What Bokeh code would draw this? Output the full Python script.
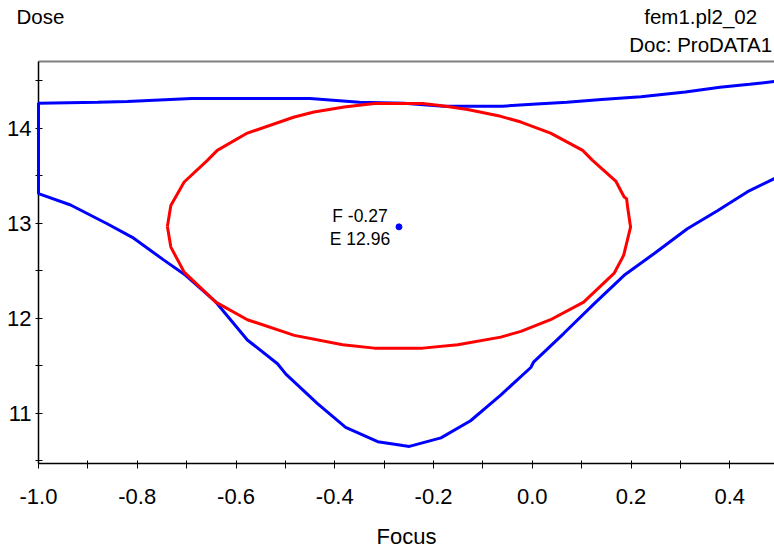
from bokeh.plotting import figure
from bokeh.models import Range1d, FixedTicker, PrintfTickFormatter, LinearAxis, Label
from bokeh.embed import file_html
from bokeh.resources import INLINE

# ---- data ----
top_focus = [-1.0, -0.88, -0.82, -0.69, -0.45, -0.35, -0.26, -0.18, -0.06, 0.00, 0.07, 0.14, 0.22, 0.31, 0.38, 0.44, 0.491]
top_dose = [14.26, 14.27, 14.28, 14.31, 14.31, 14.27, 14.26, 14.23, 14.23, 14.25, 14.27, 14.30, 14.33, 14.38, 14.43, 14.46, 14.49]

low_focus = [-1.0, -0.935, -0.86, -0.81, -0.746, -0.702, -0.641, -0.577, -0.516, -0.499, -0.435, -0.378,
             -0.313, -0.262, -0.249, -0.185, -0.125, -0.064, -0.003, 0.003, 0.064, 0.125, 0.186, 0.247,
             0.314, 0.375, 0.436, 0.491]
low_dose = [13.31, 13.19, 12.99, 12.85, 12.61, 12.45, 12.17, 11.77, 11.52, 11.41, 11.10, 10.85,
            10.70, 10.66, 10.65, 10.74, 10.92, 11.19, 11.48, 11.54, 11.84, 12.15, 12.45, 12.68,
            12.94, 13.13, 13.33, 13.47]

ell_focus = [-0.739, -0.732, -0.705, -0.658, -0.638, -0.577, -0.482, -0.442, -0.381, -0.320, -0.222,
             -0.179, -0.131, -0.064, -0.023, 0.037, 0.102, 0.122, 0.169, 0.186, 0.191, 0.193, 0.199,
             0.185, 0.166, 0.104, 0.037, -0.023, -0.064, -0.151, -0.222, -0.320, -0.384, -0.482,
             -0.577, -0.641, -0.705, -0.732, -0.739]
ell_dose = [12.965, 13.186, 13.432, 13.660, 13.765, 13.947, 14.116, 14.168, 14.221, 14.257, 14.257,
            14.232, 14.194, 14.123, 14.063, 13.947, 13.765, 13.660, 13.442, 13.274, 13.257, 13.168, 12.958,
            12.660, 12.474, 12.168, 11.983, 11.860, 11.800, 11.720, 11.684, 11.684, 11.720, 11.818,
            11.983, 12.168, 12.484, 12.747, 12.965]

center_focus = -0.27
center_dose = 12.96

x_major = [-1.0, -0.8, -0.6, -0.4, -0.2, 0.0, 0.2, 0.4]
x_minor = [-0.9, -0.7, -0.5, -0.3, -0.1, 0.1, 0.3]
y_major = [11, 12, 13, 14]
y_minor = [10.5, 11.5, 12.5, 13.5, 14.5]

x_title = "Focus"
y_title = "Dose"
file_title = "fem1.pl2_02"
doc_title = "Doc: ProDATA1"

FONT = "Liberation Sans"
X0, X1 = -1.0, 0.4905
Y0, Y1 = 10.47, 14.70
# anchor positions (along the top edge) of the header texts
DOSE_AT = -0.996
FILE_AT = 0.341

# ---- figure ----
p = figure(frame_width=736, frame_height=402, output_backend="svg", toolbar_location=None,
           x_range=Range1d(X0, X1), y_range=Range1d(Y0, Y1),
           min_border_left=38, min_border_right=0, min_border_top=61, min_border_bottom=89,
           x_axis_location="below", y_axis_location="left")
p.outline_line_color = None
p.xgrid.visible = False
p.ygrid.visible = False
p.background_fill_color = "white"
p.border_fill_color = "white"

xa = p.xaxis[0]
xa.ticker = FixedTicker(ticks=x_major, minor_ticks=x_minor)
xa.formatter = PrintfTickFormatter(format="%.1f")
ya = p.yaxis[0]
ya.ticker = FixedTicker(ticks=y_major, minor_ticks=y_minor)
ya.formatter = PrintfTickFormatter(format="%d")

for ax in (xa, ya):
    ax.axis_line_color = "black"
    ax.axis_line_width = 1.5
    ax.major_tick_line_color = "black"
    ax.minor_tick_line_color = "black"
    ax.major_label_text_font = FONT
    ax.major_label_text_font_size = "22px"
    ax.major_label_text_color = "black"

xa.major_tick_in = 3
xa.major_tick_out = 5
xa.minor_tick_in = 3
xa.minor_tick_out = 5
xa.major_label_standoff = 20
xa.axis_label = x_title
xa.axis_label_standoff = 17
xa.axis_label_text_font = FONT
xa.axis_label_text_font_style = "normal"
xa.axis_label_text_font_size = "22px"
xa.axis_label_text_color = "black"

ya.major_tick_in = 4
ya.major_tick_out = 3
ya.minor_tick_in = 4
ya.minor_tick_out = 3
ya.major_label_standoff = 4

# top edge: grey line carrying the header texts as labels
top_ax = LinearAxis(ticker=FixedTicker(ticks=[DOSE_AT, FILE_AT]),
                    axis_line_color="#808080", axis_line_width=2,
                    major_tick_line_color=None, minor_tick_line_color=None,
                    major_tick_in=0, major_tick_out=0,
                    major_label_standoff=6,
                    major_label_text_font=FONT, major_label_text_font_size="20.5px",
                    major_label_text_color="black",
                    major_label_overrides={DOSE_AT: y_title + "\n ",
                                           FILE_AT: file_title + "\n" + doc_title})
p.add_layout(top_ax, "above")

# ---- glyphs ----
blue_x = top_focus[::-1] + low_focus
blue_y = top_dose[::-1] + low_dose
p.line(blue_x, blue_y, line_color="#0000FF", line_width=3, level="overlay")
p.line(ell_focus, ell_dose, line_color="#FF0000", line_width=3, level="overlay")
p.scatter([center_focus], [center_dose], size=6, color="#0000FF")

p.add_layout(Label(x=center_focus, y=center_dose, text=f"F {center_focus:.2f}",
                   x_offset=-39, y_offset=11, text_align="center", text_baseline="middle",
                   text_font=FONT, text_font_size="17.5px", text_color="black"))
p.add_layout(Label(x=center_focus, y=center_dose, text=f"E {center_dose:.2f}",
                   x_offset=-39, y_offset=-12, text_align="center", text_baseline="middle",
                   text_font=FONT, text_font_size="17.5px", text_color="black"))

open("out.html", "w").write(file_html(p, INLINE))
